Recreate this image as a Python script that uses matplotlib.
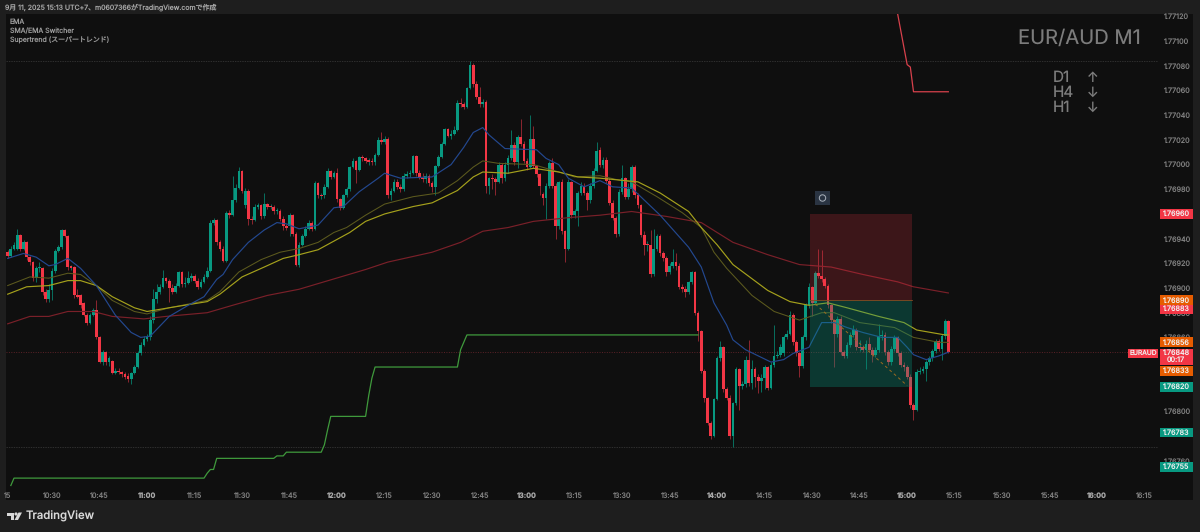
import numpy as np
import matplotlib
matplotlib.use("Agg")
import matplotlib.pyplot as plt
from matplotlib.patches import Rectangle, Circle, Polygon
from matplotlib.transforms import blended_transform_factory

plt.rcParams['font.family'] = ['Inter', 'Noto Sans CJK JP', 'DejaVu Sans']
plt.rcParams['text.hinting'] = 'no_hinting'
plt.rcParams['text.hinting_factor'] = 1

# all prices in points above 1.76000 (926 = 1.76926), bars are 1 minute, first one is 10:16
opens = [929,926,932,932,943,932,937,925,921,908,
         916,916,897,891,898,914,930,933,947,942,
         917,917,894,894,888,878,872,878,882,860,
         840,848,840,841,831,833,832,830,829,826,
         831,836,847,854,859,860,874,891,897,901,
         908,906,900,897,902,913,903,904,908,910,
         906,901,905,909,914,953,955,937,932,922,
         961,959,971,981,995,967,979,956,955,966,
         967,958,968,966,966,962,962,956,950,950,
         959,944,919,935,942,948,953,948,985,975,
         975,982,995,990,993,972,965,975,980,998,
         1003,996,1006,1005,1003,1003,1002,1008,1020,1018,
         1021,975,979,986,982,980,991,992,993,1007,
         993,989,988,991,985,982,999,1006,1017,1029,
         1023,1025,1028,1050,1049,1047,1062,1081,1065,1055,
         1049,1051,983,989,988,986,1000,989,1000,1005,
         1016,1002,1022,1017,1003,998,1021,999,992,976,
         973,983,1001,983,950,986,946,932,986,959,
         962,977,983,977,971,983,995,1012,1000,1004,
         987,969,957,944,978,989,974,980,998,975,
         967,943,935,935,911,932,942,928,924,913,
         918,921,918,901,899,897,905,913,880,865,
         833,811,791,780,810,843,852,818,811,780,
         807,834,821,822,842,823,834,828,825,827,
         836,819,838,845,846,847,860,863,878,856,
         847,837,860,886,901,888,912,910,907,902,
         886,874,863,875,848,845,854,862,866,852,
         852,850,855,850,846,850,861,862,848,840,
         851,860,847,838,836,828,805,801,832,833,
         834,840,843,849,857,851,861,873]
highs = [931,934,937,948,944,939,938,926,922,918,
         921,917,899,903,916,932,935,948,948,943,
         919,918,899,895,889,880,880,884,890,861,
         850,849,845,842,835,835,833,832,831,832,
         838,849,856,861,863,877,899,903,903,915,
         909,907,903,904,914,914,909,914,912,911,
         908,907,911,917,955,957,956,939,934,962,
         963,991,984,998,996,981,980,958,968,969,
         968,977,969,968,967,965,964,958,952,961,
         960,945,937,944,950,955,954,987,986,977,
         984,997,996,995,997,973,976,982,999,1005,
         1004,1007,1008,1006,1005,1005,1009,1022,1026,1023,
         1022,981,988,988,984,993,995,996,1008,1008,
         996,993,993,992,987,1000,1008,1018,1030,1030,
         1028,1031,1052,1054,1051,1063,1084,1082,1068,1063,
         1053,1052,990,992,990,1002,1001,1002,1008,1028,
         1018,1024,1037,1019,1005,1040,1031,1000,993,978,
         985,1003,1005,985,987,988,947,988,987,964,
         979,986,985,979,985,997,1018,1014,1006,1006,
         989,971,958,980,1000,990,985,1000,1000,977,
         968,946,938,947,948,944,944,930,926,920,
         932,928,920,903,902,906,914,914,881,866,
         834,812,792,811,845,857,853,820,813,808,
         836,835,825,845,858,842,836,830,830,838,
         837,840,870,849,855,862,866,881,880,858,
         848,862,888,904,902,914,932,931,909,903,
         887,875,877,877,850,856,864,870,868,858,
         854,858,860,852,852,871,866,864,850,853,
         862,861,849,840,838,830,807,834,836,837,
         842,845,851,859,859,863,875,874]
lows = [924,925,931,931,930,931,923,919,906,905,
        913,894,889,889,890,912,929,932,941,915,
        915,892,892,884,877,870,871,877,859,839,
        838,838,837,830,830,830,828,826,824,822,
        830,835,846,853,857,858,872,888,895,900,
        904,889,895,896,901,901,901,903,906,904,
        899,900,904,908,913,951,935,930,921,921,
        957,958,970,980,977,965,951,952,954,964,
        956,957,964,964,960,960,954,947,947,942,
        942,918,917,934,941,947,946,947,973,972,
        973,981,988,989,970,963,964,974,979,997,
        985,995,1003,1001,1000,1000,1000,1007,1017,1017,
        973,971,978,980,978,979,989,990,992,991,
        988,986,985,983,978,975,998,1005,1016,1022,
        1021,1024,1027,1047,1045,1046,1061,1063,1053,1047,
        1047,977,976,980,975,985,985,987,993,1004,
        1000,997,1015,1001,996,997,997,990,975,967,
        956,981,981,940,948,944,921,931,957,957,
        950,975,975,963,969,981,994,998,997,985,
        967,955,941,942,976,972,972,978,973,965,
        941,927,930,909,910,930,926,922,910,911,
        916,915,899,897,893,895,903,878,857,831,
        808,789,778,779,809,841,816,809,778,771,
        805,801,818,820,821,818,820,815,816,818,
        817,818,836,843,844,845,859,862,854,845,
        828,835,858,884,877,886,908,905,900,884,
        872,836,860,846,843,843,852,860,850,849,
        848,834,848,840,844,848,858,846,838,838,
        849,845,836,833,826,803,793,800,830,831,
        825,838,841,847,849,842,859,847]
closes = [926,932,935,943,932,937,925,921,908,916,
          917,897,891,898,914,930,933,947,942,917,
          917,894,893,886,878,872,878,882,860,840,
          848,840,843,831,833,832,830,828,826,831,
          836,847,854,859,860,874,891,897,901,908,
          906,900,897,902,913,903,904,908,910,906,
          901,905,909,914,953,955,937,932,922,961,
          959,971,981,995,979,979,956,955,966,967,
          958,968,966,966,962,963,956,950,949,959,
          944,919,935,942,948,953,948,985,975,975,
          982,995,990,993,972,965,975,980,998,1003,
          996,1006,1005,1003,1003,1002,1008,1020,1018,1021,
          975,979,986,982,980,991,992,993,1007,993,
          989,988,991,985,982,999,1006,1017,1029,1023,
          1025,1028,1050,1049,1047,1062,1081,1065,1055,1049,
          1051,983,989,988,986,1000,989,1000,1005,1016,
          1002,1022,1017,1003,998,1021,999,992,983,973,
          983,1001,983,950,986,946,932,986,959,962,
          977,983,977,971,983,995,1011,1000,1004,987,
          969,957,944,978,989,974,980,998,975,967,
          943,935,935,911,932,942,928,924,913,918,
          921,918,901,899,897,905,913,880,865,833,
          811,791,780,810,843,852,818,811,780,807,
          834,821,822,842,823,834,828,825,827,836,
          819,838,845,846,852,860,863,878,856,847,
          837,860,886,901,888,912,910,907,902,886,
          874,863,875,848,845,854,862,866,852,852,
          850,855,850,846,850,861,862,848,840,851,
          860,847,838,836,828,805,801,832,833,834,
          840,843,849,857,851,861,873,848]

# moving averages read at their bends, bar number and price
blue_t = [1,6,10,14,16,20,24,29,35,40,43,46,52,58,63,67,69,72,77,82,86,89,93,99,104,107,112,118,120,125,135,141,145,148,151,153,158,168,171,175,178,183,188,192,198,207,216,220,224,228,230,234,242,246,249,254,258,262,266,271,277,282,285,287,291,295,298]
blue_p = [924,928,925,918,919,924,916,902,878,864,860,861,877,886,893,907,911,923,937,947,953,952,948,951,965,966,978,989,993,989,990,1000,1014,1026,1030,1024,1013,1012,1005,1000,989,982,987,982,981,959,933,917,888,870,858,850,840,842,847,852,872,872,868,864,860,860,852,846,842,845,848]
olive_t = [1,8,14,20,24,29,34,41,45,52,64,68,74,81,87,93,99,104,108,114,120,129,137,143,148,151,156,167,175,180,188,193,198,206,214,220,224,228,236,243,251,258,262,270,281,287,295,298]
olive_p = [902,909,908,912,911,902,890,881,879,884,890,897,913,923,929,932,937,945,949,959,968,974,977,987,998,1003,1001,1000,994,990,991,988,986,974,961,949,929,916,894,881,874,880,880,872,868,860,856,856]
yellow_t = [1,7,14,20,24,29,34,41,45,52,64,68,75,82,88,93,99,104,109,114,120,129,135,143,148,151,159,167,175,181,188,200,207,216,220,225,230,241,248,254,260,266,276,284,288,297,298]
yellow_p = [895,901,902,906,906,902,893,884,881,884,889,895,909,917,924,927,931,938,945,954,960,966,969,979,990,994,993,997,994,990,989,986,977,962,949,935,919,898,889,886,888,884,877,872,866,862,862]
red_t = [1,8,14,20,28,34,44,51,64,72,83,93,114,121,135,144,151,159,167,178,188,198,209,220,230,241,251,261,271,282,287,298]
red_p = [871,877,877,881,881,877,875,877,880,886,894,899,915,921,929,937,946,949,954,957,959,962,958,953,937,927,919,917,911,905,901,896]

# supertrend
st_up_t = [2,3,63,64,65,66,67,85,86,88,89,100,101,102,103,114,115,116,117,143,144,146,219]
st_up_p = [740,746,746,750,753,753,762,762,764,764,767,767,773,785,796,796,813,827,836,836,850,862,862]
st_dn_t = [282,285,286,287,298]
st_dn_p = [1122,1081,1079,1059,1059]

# position box and levels
entry_level = 890
stop_level = 960
target_level = 820
box_start = 254.3
box_end = 286.5
last_price = 848
range_high = 1084
range_low = 771

tick_prices = [760,800,820,840,860,880,900,920,940,960,980,1000,1020,1040,1060,1080,1100,1120]
time_ticks = [1,15,30,45,60,75,90,105,120,135,150,165,180,195,210,225,240,255,270,285,300,315,330,345,360]
time_labels = ['15','10:30','10:45','11:00','11:15','11:30','11:45','12:00','12:15','12:30','12:45','13:00','13:15',
               '13:30','13:45','14:00','14:15','14:30','14:45','15:00','15:15','15:30','15:45','16:00','16:15']

# label, price, colour
price_tags = [('1.76960',960,'#f23645'),('1.76883',883,'#f23645'),('1.76890',890,'#e65c00'),
              ('1.76856',856,'#e65c00'),('1.76833',833,'#e65c00'),('1.76820',820,'#089981'),
              ('1.76783',783,'#089981'),('1.76755',755,'#089981')]

def pos(x0, y0, x1, y1):
    # pixel box to figure fractions
    return [x0/1200, 1-y1/532, (x1-x0)/1200, (y1-y0)/532]

fig = plt.figure(figsize=(12, 5.32), dpi=100, facecolor='#1e1e1e')

# background layer in pixels
bg = fig.add_axes([0, 0, 1, 1], zorder=0)
bg.set_xlim(0, 1200)
bg.set_ylim(532, 0)
bg.axis('off')
bg.add_patch(Rectangle((6, 14), 1187, 486, fc='#0f0f0f', ec='none'))

grey = '#9a9a9a'
bg.text(5, 7.5, '9月 11, 2025 15:13 UTC+7、m0607366がTradingView.comで作成', color='#a8a8a8', fontsize=5, va='center')
bg.text(10, 22, 'EMA', color=grey, fontsize=5, va='center')
bg.text(10, 31, 'SMA/EMA Switcher', color=grey, fontsize=5, va='center')
bg.text(10, 40, 'Supertrend (スーパートレンド)', color=grey, fontsize=5, va='center')
bg.text(1018, 39, 'EUR/AUD M1', color='#7c7c7c', fontsize=14.5, va='center')
for lab, arrow, yy in [('D1', '↑', 78), ('H4', '↓', 93), ('H1', '↓', 108)]:
    bg.text(1053, yy, lab, color='#7c7c7c', fontsize=11, va='center')
    bg.text(1093, yy, arrow, color='#7c7c7c', fontsize=10, va='center', ha='center')

# little button over the box
bg.add_patch(Rectangle((815, 191), 15, 14, fc='#2a3442', ec='none'))
bg.add_patch(Circle((822.5, 198), 3.2, fc='none', ec='#aab2bc', lw=0.7))

# footer logo
logo = '#d8d8d8'
bg.add_patch(Polygon([(7,512.5),(14,512.5),(14,520),(11,520),(11,515.5),(7,515.5)], fc=logo, ec='none'))
bg.add_patch(Circle((16, 514), 1.6, fc=logo, ec='none'))
bg.add_patch(Polygon([(18,520),(14.5,520),(18.5,512.5),(22,512.5)], fc=logo, ec='none'))
bg.text(26, 516.5, 'TradingView', color=logo, fontsize=8.2, va='center', fontweight='medium')

# main chart
ax = fig.add_axes(pos(6, 14, 1158, 487), zorder=1)
ax.patch.set_alpha(0)
for s in ax.spines.values():
    s.set_visible(False)
ax.set_xlim(0.47, 364.2)
ax.set_ylim(738.8, 1122)

t = np.arange(1, len(closes)+1)
o = np.array(opens)
c = np.array(closes)
h = np.array(highs)
l = np.array(lows)
up = c >= o

ax.hlines([range_high, range_low], 0.47, 364.2, color='#3c3c3c', lw=0.5, ls=(0, (2, 1.5)), zorder=1)
ax.hlines(last_price, 0.47, 355.5, color='#5c2228', lw=0.7, ls=(0, (1, 1.5)), zorder=1)

ax.vlines(t[up], l[up], h[up], color='#08705f', lw=0.7, zorder=2)
ax.vlines(t[~up], l[~up], h[~up], color='#8c2630', lw=0.7, zorder=2)
ax.bar(t[up], (c-o)[up], bottom=o[up], width=0.86, color='#089981', lw=0, zorder=3)
ax.bar(t[~up], (o-c)[~up], bottom=c[~up], width=0.86, color='#f23645', lw=0, zorder=3)
flat = np.abs(c-o) < 1
ax.bar(t[flat], 1, bottom=c[flat]-0.5, width=0.86, color='#f23645', lw=0, zorder=3)

ax.plot(red_t, red_p, color='#7a2029', lw=0.85, zorder=4)
ax.plot(olive_t, olive_p, color='#5c5a1e', lw=0.75, zorder=4)
ax.plot(yellow_t, yellow_p, color='#a5a11c', lw=0.85, zorder=4)
ax.plot(blue_t, blue_p, color='#23488f', lw=0.85, zorder=4)
ax.plot(st_up_t, st_up_p, color='#3f9a3c', lw=0.9, zorder=4)
ax.plot(st_dn_t, st_dn_p, color='#d8414c', lw=0.9, zorder=4)

ax.add_patch(Rectangle((box_start, entry_level), box_end-box_start, stop_level-entry_level, fc='#f23645', alpha=0.2, ec='none', zorder=5))
ax.add_patch(Rectangle((box_start, target_level), box_end-box_start, entry_level-target_level, fc='#089981', alpha=0.3, ec='none', zorder=5))
ax.plot([box_start, box_end], [entry_level, entry_level], color='#8a4a20', lw=0.6, zorder=5)
ax.plot([256, 285], [887, 821], color='#9a6a20', lw=0.7, ls=(0, (3, 3)), zorder=6)

ax.xaxis.tick_bottom()
ax.set_xticks(time_ticks)
ax.set_xticklabels(time_labels)
ax.yaxis.tick_right()
ax.set_yticks(tick_prices)
ax.set_yticklabels([f'{1.76 + v/1e5:.5f}' for v in tick_prices])
ax.tick_params(axis='x', length=0, pad=3.5, labelsize=5.2, labelcolor='#808080')
ax.tick_params(axis='y', length=0, pad=4.5, labelsize=5.2, labelcolor='#808080')
for lab in ax.get_xticklabels():
    if lab.get_text().endswith(':00'):
        lab.set_fontweight('bold')
        lab.set_color('#a8a8a8')

# price tags on the right
tr = blended_transform_factory(ax.transAxes, ax.transData)
tag_x = 1 + 1.5/1152
for txt, price, col in price_tags:
    ax.add_patch(Rectangle((tag_x, price-4), 33/1152, 8, transform=tr, fc=col, ec='none', clip_on=False, zorder=7))
    ax.text(tag_x + 16.5/1152, price-0.2, txt, transform=tr, color='#f0f0f0', fontsize=5.2, ha='center', va='center', zorder=8, clip_on=False)

# last price tag with countdown, and the symbol tag next to it
ax.add_patch(Rectangle((tag_x, 837.7), 33/1152, 12.9, transform=tr, fc='#f23645', ec='none', clip_on=False, zorder=7))
ax.text(tag_x + 16.5/1152, 847.4, '1.76848', transform=tr, color='#f0f0f0', fontsize=5.2, ha='center', va='center', zorder=8, clip_on=False)
ax.text(tag_x + 16.5/1152, 841.4, '00:17', transform=tr, color='#f0f0f0', fontsize=5.2, ha='center', va='center', zorder=8, clip_on=False)
ax.add_patch(Rectangle((1-30/1152, 843.7), 30/1152, 6.9, transform=tr, fc='#f23645', ec='none', clip_on=False, zorder=7))
ax.text(1-15/1152, 847.4, 'EURAUD', transform=tr, color='#f0f0f0', fontsize=4.8, ha='center', va='center', zorder=8, clip_on=False)

fig.savefig('out.png', dpi=100, facecolor=fig.get_facecolor())
